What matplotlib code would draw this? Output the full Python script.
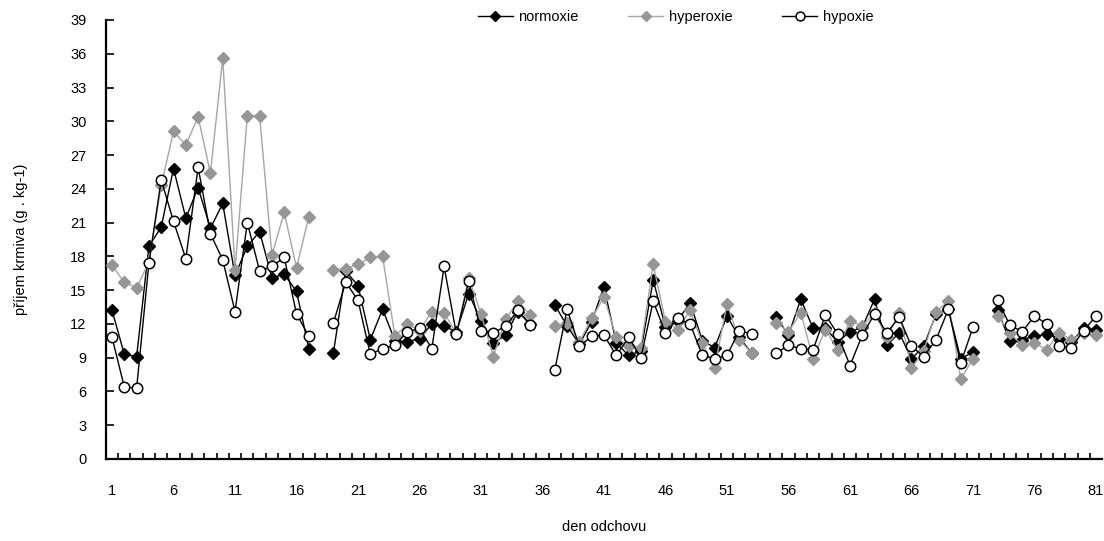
import numpy as np
import matplotlib
matplotlib.use('Agg')
import matplotlib.pyplot as plt
from matplotlib.ticker import FixedLocator

plt.rcParams['font.family'] = ['Liberation Sans', 'DejaVu Sans']

nan = np.nan

# den odchovu 1..81 (no measurement on days 18, 36, 54, 72)
days = np.arange(1, 82)

normoxie = [
    13.2, 9.3, 9.1, 18.9, 20.6, 25.8, 21.4, 24.1, 20.5, 22.7,
    16.3, 18.9, 20.2, 16.1, 16.4, 14.9, 9.8, nan, 9.4, 16.7,
    15.4, 10.6, 13.3, 10.5, 10.4, 10.7, 12.0, 11.8, 11.3, 14.7,
    12.3, 10.3, 11.0, 13.1, 12.0, nan, 13.7, 11.8, 10.2, 12.2,
    15.3, 10.3, 9.2, 9.6, 15.9, 11.7, 12.3, 13.9, 10.5, 9.9,
    12.7, 10.8, 9.4, nan, 12.6, 11.0, 14.2, 11.6, 11.6, 10.4,
    11.3, 11.7, 14.2, 10.1, 11.2, 8.9, 10.0, 12.9, 13.3, 8.9,
    9.5, nan, 13.2, 10.5, 10.6, 10.9, 11.1, 10.7, 10.4, 11.6,
    11.5,
]

hyperoxie = [
    17.2, 15.7, 15.2, 17.5, 24.3, 29.1, 27.9, 30.4, 25.4, 35.6,
    16.8, 30.5, 30.5, 18.1, 21.9, 17.0, 21.5, nan, 16.8, 16.9,
    17.3, 17.9, 18.0, 10.9, 12.0, 11.4, 13.1, 13.0, 11.1, 16.1,
    12.9, 9.1, 12.4, 14.0, 12.8, nan, 11.8, 12.1, 10.4, 12.5,
    14.4, 10.8, 10.0, 9.9, 17.3, 12.2, 11.5, 13.2, 10.3, 8.1,
    13.8, 10.6, 9.4, nan, 12.1, 11.3, 13.0, 8.9, 11.5, 9.7,
    12.3, 11.8, 13.0, 10.8, 13.0, 8.1, 9.6, 13.1, 14.0, 7.1,
    8.9, nan, 12.7, 11.2, 10.1, 10.3, 9.7, 11.2, 10.6, 11.2,
    11.0,
]

hypoxie = [
    10.8, 6.4, 6.3, 17.4, 24.8, 21.1, 17.8, 25.9, 20.0, 17.7,
    13.1, 21.0, 16.7, 17.1, 17.9, 12.9, 10.9, nan, 12.1, 15.7,
    14.1, 9.3, 9.8, 10.1, 11.3, 11.6, 9.8, 17.1, 11.1, 15.8,
    11.4, 11.2, 11.8, 13.2, 11.9, nan, 7.9, 13.3, 10.0, 10.9,
    11.0, 9.2, 10.8, 9.0, 14.0, 11.2, 12.5, 12.0, 9.2, 8.9,
    9.2, 11.4, 11.1, nan, 9.4, 10.1, 9.8, 9.7, 12.8, 11.1,
    8.3, 11.0, 12.9, 11.2, 12.6, 10.0, 9.1, 10.6, 13.3, 8.5,
    11.7, nan, 14.1, 11.9, 11.3, 12.7, 12.0, 10.0, 9.9, 11.4,
    12.7,
]

x_labels = [1, 6, 11, 16, 21, 26, 31, 36, 41, 46, 51, 56, 61, 66, 71, 76, 81]
y_ticks = np.arange(0, 40, 3)

fig = plt.figure(figsize=(11.04, 5.41), dpi=100)
ax = fig.add_axes([0.0959, 0.1516, 0.9024, 0.8115])

ax.plot(days, normoxie, color='black', lw=1.0, marker='D', ms=6,
        mfc='black', mec='black', label='normoxie', zorder=3)
ax.plot(days, hyperoxie, color='#a6a6a6', lw=1.0, marker='D', ms=6,
        mfc='#969696', mec='#969696', label='hyperoxie', zorder=4)
ax.plot(days, hypoxie, color='black', lw=1.0, marker='o', ms=7.5,
        mfc='white', mec='black', mew=1.1, label='hypoxie', zorder=5)

ax.set_xlim(0.5, 81.5)
ax.set_ylim(0, 39)

# category labels, with small inward marks between categories
ax.set_xticks(x_labels)
ax.set_xticklabels([str(v) for v in x_labels])
ax.xaxis.set_minor_locator(FixedLocator(np.arange(1.5, 81.5, 1)))
ax.tick_params(axis='x', which='major', length=0, pad=18, labelsize=10.5)
ax.tick_params(axis='x', which='minor', direction='in', length=4, width=1.2)

ax.set_yticks(y_ticks)
ax.tick_params(axis='y', direction='in', length=6, width=1.2, pad=14, labelsize=10.5)

for side in ('top', 'right'):
    ax.spines[side].set_visible(False)
for side in ('left', 'bottom'):
    ax.spines[side].set_linewidth(1.6)

ax.set_xlabel('den odchovu', fontsize=10.5, labelpad=16)
ax.set_ylabel('příjem krmiva (g . kg-1)', fontsize=10.5, labelpad=30)

fig.legend(loc='upper center', bbox_to_anchor=(0.612, 1.005), ncol=3,
           frameon=False, fontsize=10.5, handlelength=2.4, handletextpad=0.4,
           columnspacing=3.4, markerscale=0.85)

fig.savefig('out.png', dpi=100)
